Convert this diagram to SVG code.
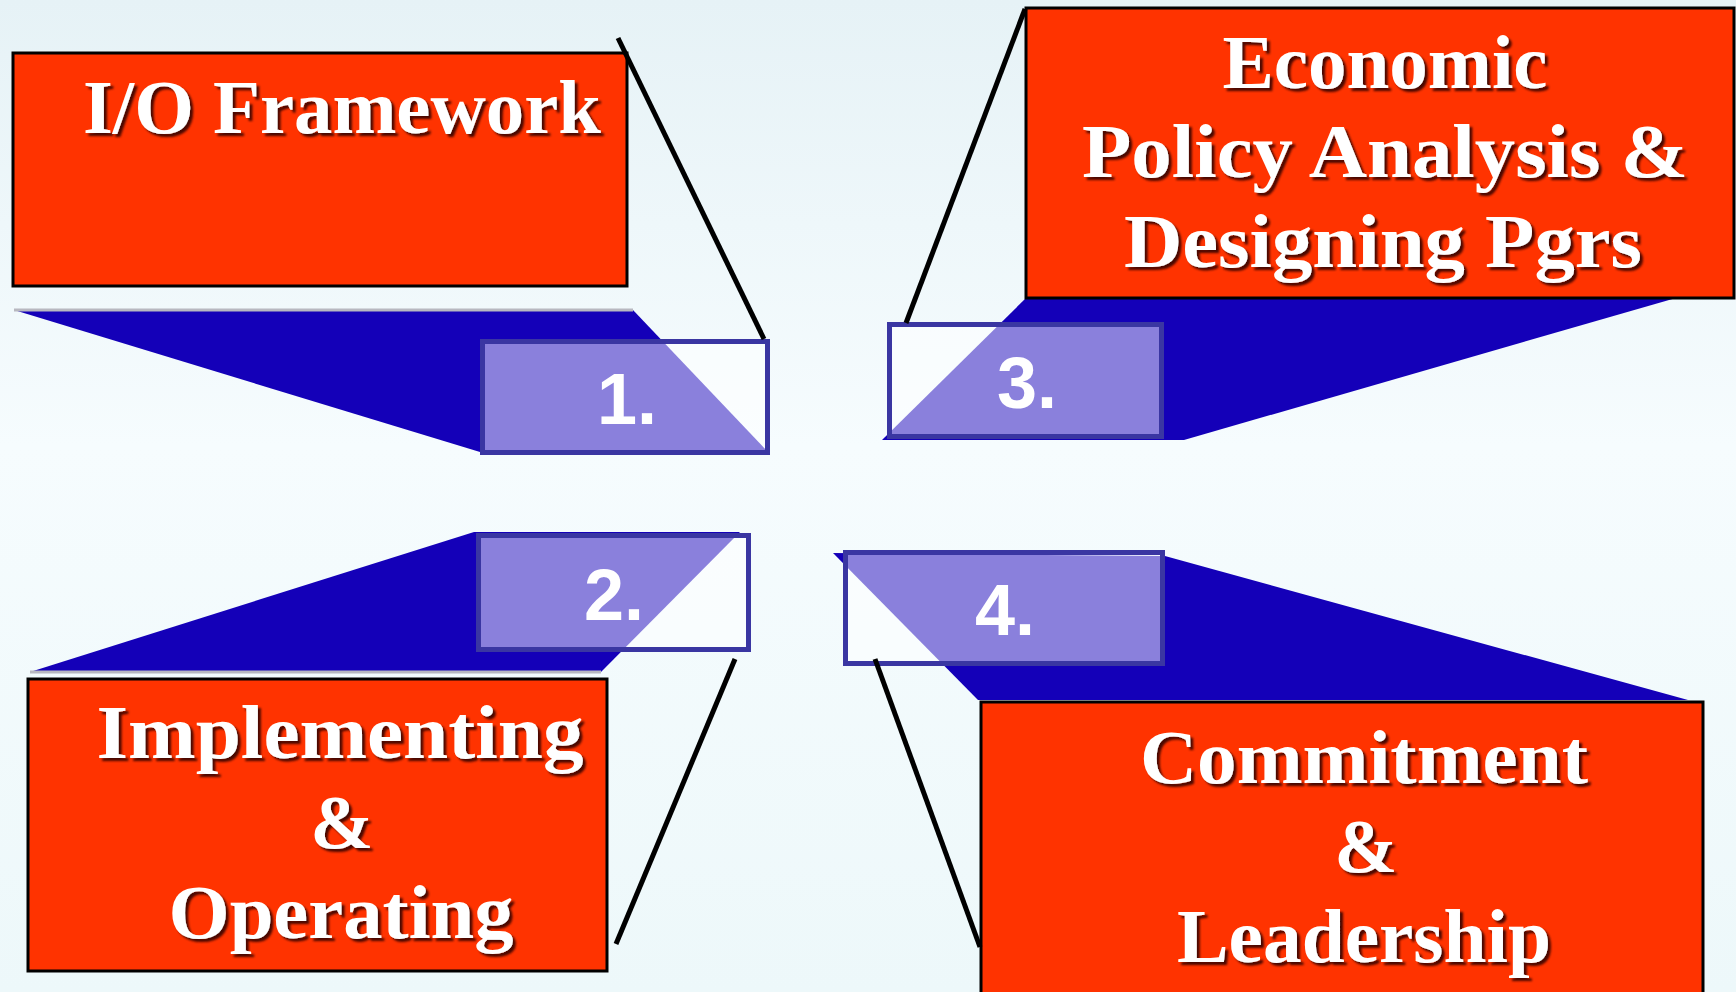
<svg xmlns="http://www.w3.org/2000/svg" width="1736" height="992" viewBox="0 0 1736 992">
<defs>
<linearGradient id="bg" x1="0" y1="0" x2="0" y2="1">
<stop offset="0" stop-color="#E6F2F6"/>
<stop offset="0.45" stop-color="#F6FCFE"/>
<stop offset="1" stop-color="#EDF8FA"/>
</linearGradient>
<filter id="sh" x="-10%" y="-30%" width="120%" height="160%">
<feDropShadow dx="3" dy="3" stdDeviation="1.2" flood-color="#2a0000" flood-opacity="0.85"/>
</filter>
<style>
.red{fill:#FF3300;stroke:#000;stroke-width:3}
.wedge{fill:#1400B8}
.num{fill:#fff;fill-opacity:0.5;stroke:#3A36A2;stroke-width:5}
.lbl{font-family:"Liberation Serif","Times New Roman",serif;font-weight:bold;font-size:76px;fill:#fff;filter:url(#sh)}
.n{font-family:"Liberation Sans",Arial,sans-serif;font-weight:bold;font-size:72px;fill:#fff}
.hl{stroke:#B8B8C0;stroke-width:3}
.con{stroke:#000;stroke-width:5;fill:none;stroke-linecap:butt}
</style>
</defs>
<rect x="0" y="0" width="1736" height="992" fill="url(#bg)"/>

<g id="node-1">
<polygon class="wedge" points="14,310 633,310 769,453 480,452"/>
<line class="hl" x1="14" y1="310" x2="633" y2="310"/>
<rect class="num" x="482.5" y="341.5" width="285" height="111"/>
<text class="n" x="597" y="424">1.</text>
<rect class="red" x="13" y="53" width="614" height="233"/>
<text class="lbl" x="83" y="133" textLength="518" lengthAdjust="spacingAndGlyphs">I/O Framework</text>
</g>

<g id="node-2">
<polygon class="wedge" points="474,532 740,532 601,672 30,672"/>
<line class="hl" x1="30" y1="672" x2="601" y2="672"/>
<rect class="num" x="478.5" y="535.5" width="270" height="114"/>
<text class="n" x="584" y="620">2.</text>
<rect class="red" x="28" y="679" width="579" height="292"/>
<text class="lbl" x="340" y="758" text-anchor="middle" textLength="487" lengthAdjust="spacingAndGlyphs">Implementing</text>
<text class="lbl" x="342" y="848" text-anchor="middle">&amp;</text>
<text class="lbl" x="341" y="938" text-anchor="middle" textLength="345" lengthAdjust="spacingAndGlyphs">Operating</text>
</g>

<g id="node-3">
<polygon class="wedge" points="1026,298 1676,298 1184,440 882,440"/>
<rect class="num" x="889.5" y="324.5" width="272" height="112"/>
<text class="n" x="997" y="408">3.</text>
<rect class="red" x="1026" y="8" width="708" height="290"/>
<text class="lbl" x="1385" y="88" text-anchor="middle" textLength="325" lengthAdjust="spacingAndGlyphs">Economic</text>
<text class="lbl" x="1385" y="177" text-anchor="middle" textLength="606" lengthAdjust="spacingAndGlyphs">Policy Analysis &amp;</text>
<text class="lbl" x="1383" y="267" text-anchor="middle" textLength="518" lengthAdjust="spacingAndGlyphs">Designing Pgrs</text>
</g>

<g id="node-4">
<polygon class="wedge" points="833,553 1165,556 1688,700 978,700"/>
<rect class="num" x="845.5" y="552.5" width="317" height="111"/>
<text class="n" x="975" y="635">4.</text>
<rect class="red" x="981" y="702" width="722" height="300"/>
<text class="lbl" x="1364" y="783" text-anchor="middle" textLength="448" lengthAdjust="spacingAndGlyphs">Commitment</text>
<text class="lbl" x="1366" y="872" text-anchor="middle">&amp;</text>
<text class="lbl" x="1364" y="962" text-anchor="middle" textLength="374" lengthAdjust="spacingAndGlyphs">Leadership</text>
</g>

<g id="connectors">
<line class="con" x1="618" y1="38" x2="764" y2="339"/>
<line class="con" x1="1025" y1="9" x2="906" y2="323"/>
<line class="con" x1="735" y1="659" x2="616" y2="944"/>
<line class="con" x1="875" y1="659" x2="980" y2="947"/>
</g>
</svg>
